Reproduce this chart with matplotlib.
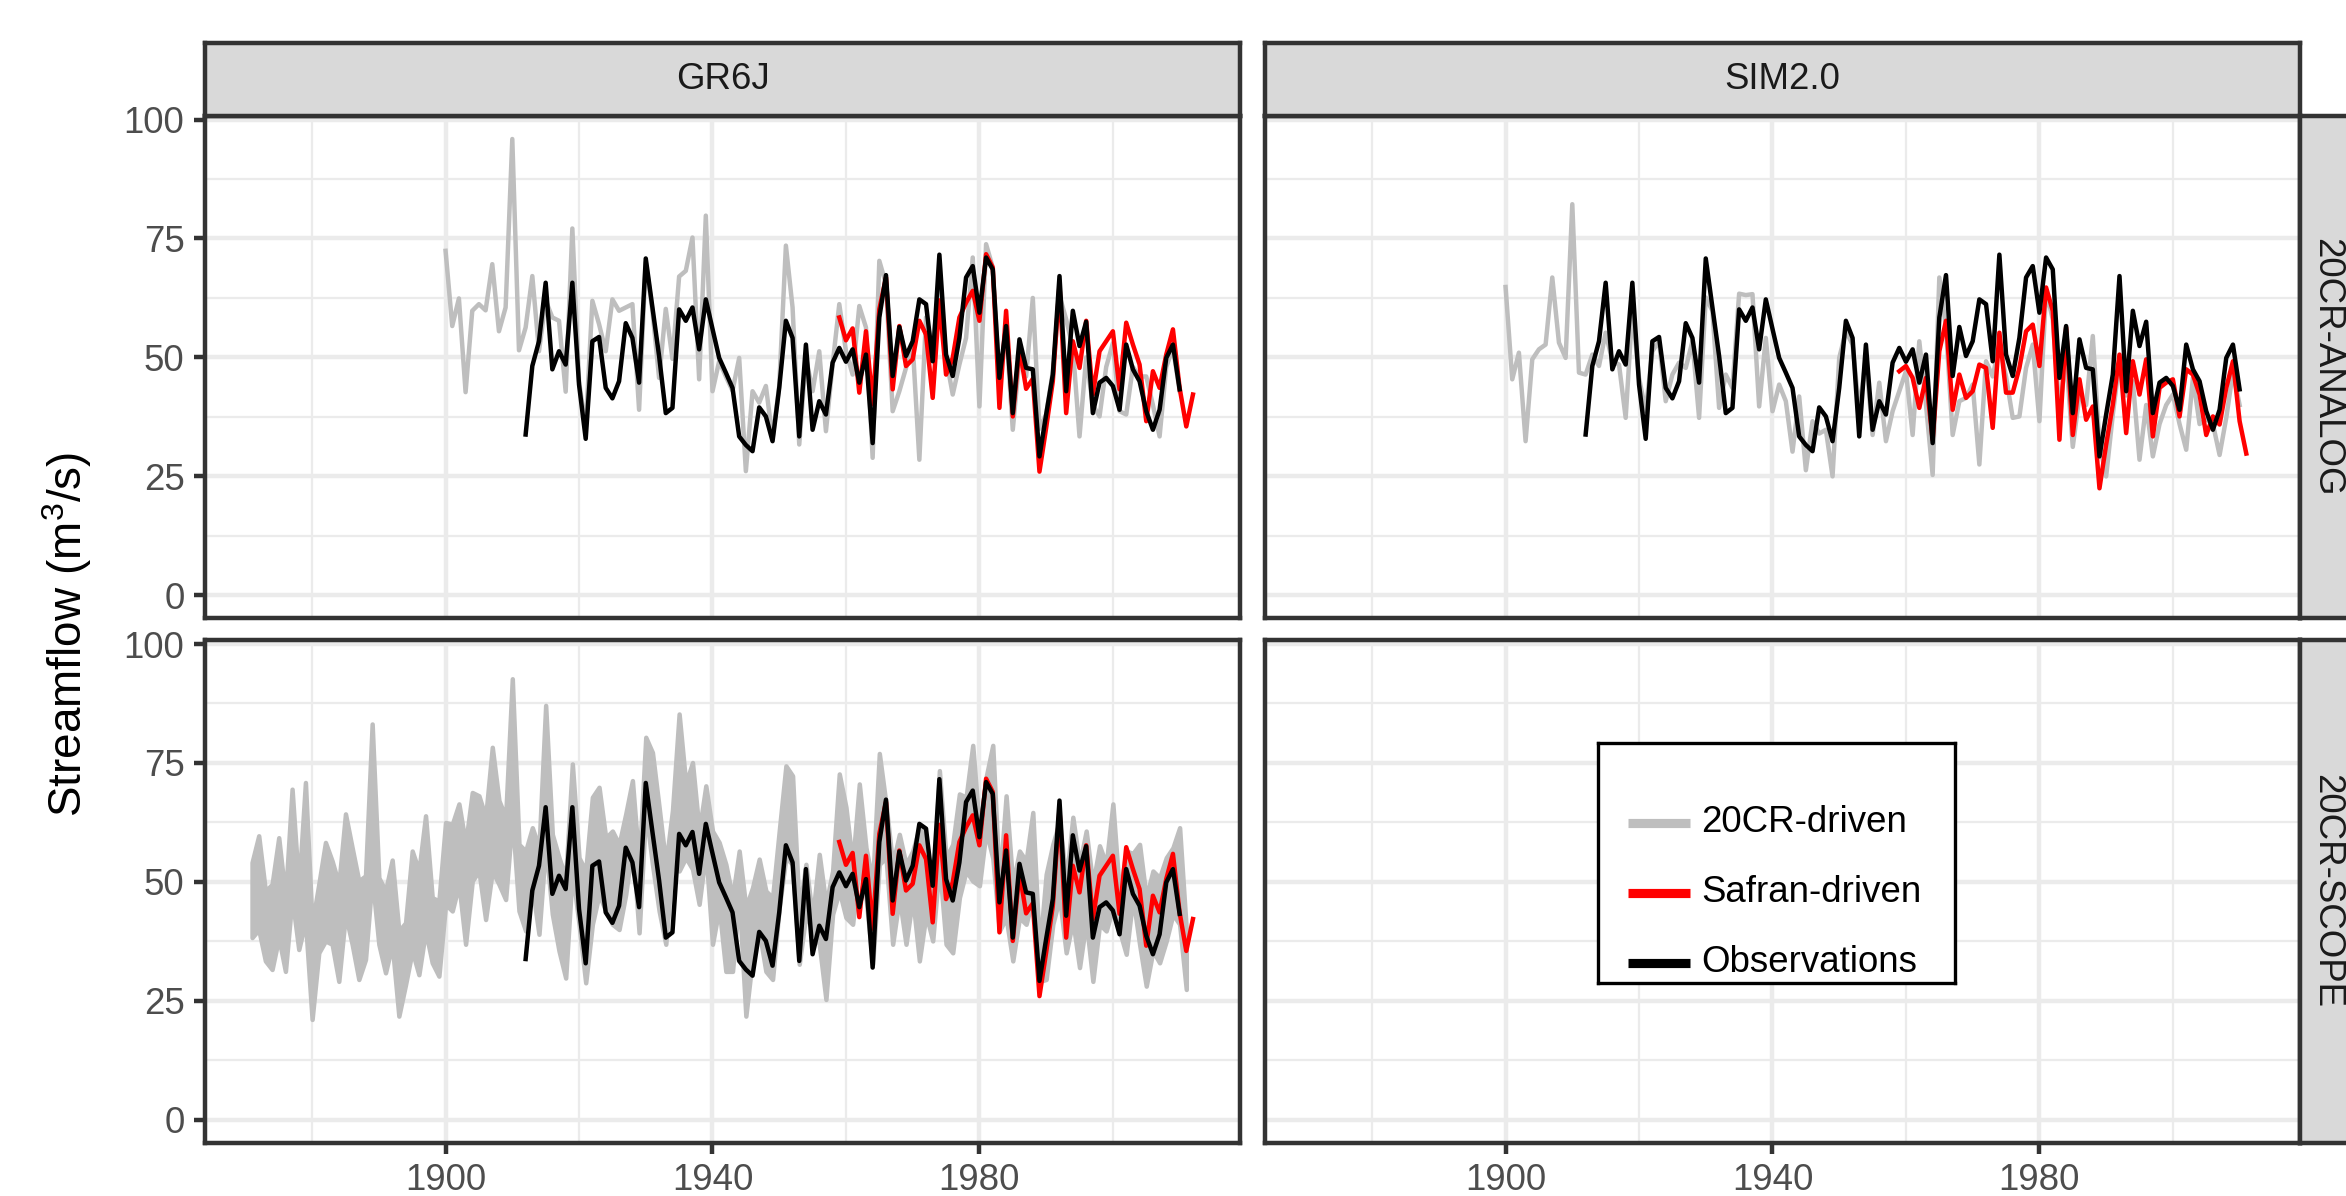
import numpy as np
import matplotlib
matplotlib.use('Agg')
import matplotlib.pyplot as plt

plt.rcParams['font.family'] = ['Liberation Sans', 'DejaVu Sans']
plt.rcParams['mathtext.fontset'] = 'custom'
plt.rcParams['mathtext.rm'] = 'Liberation Sans'
plt.rcParams['mathtext.it'] = 'Liberation Sans:italic'

W, H, DPI = 2346, 1196, 300

models = ['GR6J', 'SIM2.0']
methods = ['20CR-ANALOG', '20CR-SCOPE']
legend_labels = ['20CR-driven', 'Safran-driven', 'Observations']
x_breaks = [1900, 1940, 1980]
x_minor = [1880, 1920, 1960, 2000]
y_breaks = [0, 25, 50, 75, 100]
y_minor = [12.5, 37.5, 62.5, 87.5]

# observed streamflow, 1912-2010
obs_start = 1912
obs = [33.8, 48.2, 53.4, 65.7, 47.5, 51.3, 48.5, 65.7,
       44.3, 32.9, 53.4, 54.3, 43.6, 41.4, 45.0, 57.2, 54.1, 44.7,
       70.8, 60.5, 50.3, 38.3, 39.4, 60.1, 57.7, 60.5, 51.7, 62.2,
       56.0, 49.9, 46.8, 43.6, 33.4, 31.6, 30.3, 39.5, 37.6, 32.4,
       43.6, 57.7, 54.1, 33.4, 52.7, 34.8, 40.8, 38.0, 48.9, 52.0,
       49.1, 51.7, 44.7, 50.6, 32.0, 58.4, 67.3, 46.1, 56.4, 50.3,
       53.4, 62.2, 61.2, 49.2, 71.6, 50.6, 46.1, 54.1, 66.8, 69.2,
       59.4, 71.0, 68.5, 45.7, 56.6, 38.3, 53.8, 47.8, 47.5, 29.2,
       38.0, 46.4, 67.1, 42.9, 59.8, 52.4, 57.5, 38.3, 44.7, 45.7,
       44.0, 39.0, 52.7, 47.5, 45.0, 38.7, 34.8, 39.0, 49.9, 52.7,
       43.3]

# Safran-driven simulations
safran_start = 1959
safran_gr6j = [58.4,
               53.6, 56.1, 42.6, 55.5, 40.2, 60.1, 66.8, 43.3, 56.6, 48.2,
               49.6, 57.7, 54.8, 41.5, 62.0, 46.4, 49.9, 58.4, 61.5, 64.0,
               57.7, 71.7, 68.9, 39.4, 59.8, 37.6, 52.0, 43.4, 45.5, 26.0,
               35.2, 45.0, 65.3, 38.3, 53.4, 47.8, 57.7, 42.2, 51.3, 53.4,
               55.5, 43.3, 57.3, 52.7, 48.5, 36.6, 47.1, 43.6, 50.6, 55.9,
               43.6, 35.5, 42.2]
safran_sim = [47.1,
              48.2, 45.7, 39.4, 45.7, 32.7, 51.3, 57.7, 39.0, 46.4, 41.5,
              42.9, 48.5, 47.8, 35.2, 55.2, 42.6, 42.6, 47.8, 55.5, 56.9,
              48.2, 64.7, 59.8, 32.7, 56.3, 33.7, 45.4, 36.9, 39.7, 22.5,
              31.7, 40.1, 50.6, 34.1, 49.2, 42.2, 49.6, 33.4, 43.6, 44.7,
              45.4, 37.6, 47.5, 46.4, 42.2, 33.7, 37.6, 35.9, 43.6, 49.2,
              36.6, 29.8]

# 20CR-ANALOG driven simulations, 1900-2010
analog_start = 1900
analog_gr6j = [72.4, 56.6, 62.4, 42.7, 59.8, 61.2, 59.9, 69.6, 55.5, 60.5,
               95.9, 51.5, 56.3, 67.1, 51.3, 62.0, 58.4, 57.7, 42.8, 77.1,
               45.0, 35.0, 61.9, 57.0, 51.3, 62.2, 59.8, 60.5, 61.2, 39.0,
               70.0, 59.8, 45.7, 60.2, 49.7, 67.0, 68.2, 75.2, 45.4, 79.8,
               42.9, 49.2, 46.0, 43.0, 49.9, 26.1, 42.9, 40.5, 44.0, 33.0,
               44.0, 73.5, 60.5, 31.7, 50.0, 42.9, 51.3, 34.5, 48.5, 61.2,
               51.3, 46.4, 60.8, 56.3, 28.9, 70.3, 65.4, 38.7, 42.9, 47.8,
               52.7, 28.5, 58.4, 52.0, 65.4, 49.9, 42.2, 48.5, 54.1, 71.0,
               39.7, 73.8, 68.9, 45.0, 56.0, 34.8, 50.0, 46.0, 62.5, 35.0,
               38.0, 47.0, 63.0, 58.0, 52.0, 33.4, 50.0, 40.0, 37.6, 48.0,
               53.0, 38.7, 38.0, 48.0, 46.0, 46.0, 40.0, 33.4, 48.0, 52.0,
               43.0]
analog_sim = [64.8, 45.4, 51.0, 32.4, 49.6, 51.7, 52.7, 66.8, 53.1, 49.9,
              82.2, 46.8, 46.4, 50.6, 48.2, 55.2, 49.2, 48.5, 37.3, 60.0,
              45.7, 38.7, 51.3, 53.4, 40.8, 46.4, 48.9, 47.8, 53.4, 37.3,
              62.6, 59.8, 39.4, 46.4, 43.6, 63.4, 63.1, 63.3, 39.7, 54.1,
              38.7, 44.3, 40.8, 30.2, 41.8, 26.3, 36.6, 34.0, 34.8, 25.0,
              49.9, 55.5, 52.7, 38.7, 50.0, 33.7, 44.7, 32.4, 38.7, 42.9,
              47.1, 33.7, 53.4, 40.1, 25.3, 66.8, 56.3, 33.7, 40.8, 41.5,
              44.3, 27.5, 49.2, 46.0, 52.7, 46.0, 37.3, 37.6, 47.8, 52.7,
              36.6, 64.0, 58.0, 38.7, 50.0, 31.2, 42.0, 40.0, 54.5, 31.7,
              25.0, 38.0, 49.2, 42.0, 45.0, 28.5, 40.0, 29.2, 36.0, 40.0,
              42.2, 36.0, 30.6, 45.7, 36.0, 37.0, 36.0, 29.5, 37.3, 47.0,
              40.0]

# 20CR-SCOPE ensemble envelope (GR6J), 1871-2011
scope_start = 1871
scope_hi = [54.1, 59.7, 48.1, 49.5, 59.3, 46.7, 69.5, 48.8, 70.9,
            41.1, 49.5, 58.3, 54.4, 49.5, 64.3, 57.2, 50.2, 51.3, 83.2,
            50.9, 48.1, 54.6, 39.7, 41.4, 56.5, 52.3, 63.9, 46.7, 46.0,
            62.5, 62.1, 66.4, 58.0, 68.8, 68.1, 63.6, 78.3, 67.1, 63.6,
            92.7, 57.9, 56.5, 61.4, 57.2, 87.1, 60.0, 55.1, 50.9, 74.8,
            55.1, 52.3, 67.8, 69.9, 59.3, 60.7, 57.9, 64.3, 71.3, 53.7,
            80.4, 77.2, 65.7, 53.7, 65.0, 85.3, 70.6, 75.1, 60.7, 70.2,
            60.7, 58.3, 53.7, 46.7, 56.5, 44.6, 48.8, 54.8, 48.1, 46.7,
            60.7, 74.4, 72.3, 43.9, 53.7, 42.5, 55.8, 45.3, 52.3, 72.7,
            65.7, 53.7, 70.6, 57.2, 50.0, 77.0, 66.4, 53.7, 60.0, 53.7,
            56.5, 61.4, 59.3, 46.7, 73.4, 55.1, 57.9, 68.5, 67.8, 78.7,
            61.0, 72.0, 78.7, 49.5, 68.1, 49.5, 56.5, 54.4, 64.6, 35.5,
            51.6, 57.9, 62.8, 50.2, 63.6, 53.7, 60.7, 49.5, 57.6, 53.7,
            66.4, 47.4, 56.5, 56.0, 57.9, 46.7, 52.3, 50.9, 55.1, 57.2,
            61.4, 40.0]
scope_lo = [38.3, 40.0, 33.4, 31.6, 38.3, 31.2, 46.7, 35.8, 41.8,
            21.1, 35.1, 37.6, 36.9, 29.1, 43.2, 36.9, 29.5, 33.7, 50.9,
            36.9, 30.9, 36.9, 21.8, 28.4, 35.5, 30.5, 39.7, 33.0, 30.2,
            45.3, 43.9, 49.5, 36.9, 50.2, 52.3, 42.1, 52.3, 49.5, 46.3,
            63.6, 43.9, 39.7, 48.8, 39.0, 57.9, 43.2, 35.5, 29.8, 52.3,
            41.1, 28.8, 41.1, 47.4, 43.9, 41.1, 40.0, 47.4, 57.9, 39.3,
            65.0, 53.7, 43.9, 36.9, 53.7, 52.3, 55.1, 52.7, 45.3, 56.5,
            36.9, 44.6, 31.2, 31.2, 46.7, 21.8, 34.1, 39.7, 31.2, 29.5,
            44.6, 55.1, 53.7, 32.7, 43.2, 39.7, 36.9, 25.3, 43.2, 48.1,
            42.5, 41.1, 53.7, 46.7, 32.7, 53.7, 55.1, 36.9, 46.7, 36.9,
            46.7, 33.4, 43.2, 37.6, 53.7, 36.9, 35.1, 46.7, 52.3, 50.2,
            49.2, 60.7, 55.0, 39.7, 42.5, 33.4, 42.5, 41.1, 46.7, 29.1,
            29.5, 41.1, 46.7, 35.1, 41.8, 32.0, 41.8, 29.1, 41.1, 39.7,
            44.6, 39.7, 34.8, 46.7, 36.9, 28.1, 35.5, 33.0, 37.6, 43.2,
            41.1, 27.4]

GREY = '#BEBEBE'
RED = '#FF0000'


def years(start, values):
    return np.arange(start, start + len(values))


def px_box(x0, y0, x1, y1):
    return [x0 / W, 1 - y1 / H, (x1 - x0) / W, (y1 - y0) / H]


fig = plt.figure(figsize=(W / DPI, H / DPI), dpi=DPI)

col_x = [(205, 1240), (1265, 2300)]
row_y = [(115.7, 618.2), (640.2, 1142.7)]
xlim = (1871 - 0.05 * 141, 2012 + 0.05 * 141)
ylim = (-4.8, 100.8)

axes = {}
for r in range(2):
    for c in range(2):
        ax = fig.add_axes(px_box(col_x[c][0], row_y[r][0], col_x[c][1], row_y[r][1]))
        ax.set_xlim(*xlim)
        ax.set_ylim(*ylim)
        ax.set_xticks(x_breaks)
        ax.set_xticks(x_minor, minor=True)
        ax.set_yticks(y_breaks)
        ax.set_yticks(y_minor, minor=True)
        ax.grid(which='major', color='#EBEBEB', lw=1.07)
        ax.grid(which='minor', color='#EBEBEB', lw=0.53)
        ax.set_axisbelow(True)
        ax.tick_params(which='minor', length=0)
        ax.tick_params(which='major', length=2.74, width=1.07, color='#333333',
                       labelcolor='#4D4D4D', labelsize=8.8, pad=2.2)
        for s in ax.spines.values():
            s.set_color('#333333')
            s.set_linewidth(1.07)
        if c == 1:
            ax.tick_params(labelleft=False, left=False)
        if r == 0:
            ax.tick_params(labelbottom=False, bottom=False)
        axes[(r, c)] = ax

lw = 1.07
# top row: 20CR-ANALOG
ax = axes[(0, 0)]
ax.plot(years(analog_start, analog_gr6j), analog_gr6j, color=GREY, lw=lw)
ax.plot(years(safran_start, safran_gr6j), safran_gr6j, color=RED, lw=lw)
ax.plot(years(obs_start, obs), obs, color='black', lw=lw)

ax = axes[(0, 1)]
ax.plot(years(analog_start, analog_sim), analog_sim, color=GREY, lw=lw)
ax.plot(years(safran_start, safran_sim), safran_sim, color=RED, lw=lw)
ax.plot(years(obs_start, obs), obs, color='black', lw=lw)

# bottom row: 20CR-SCOPE ensemble envelope
ax = axes[(1, 0)]
ys = years(scope_start, scope_hi)
ax.fill_between(ys, scope_lo, scope_hi, color=GREY, lw=lw, edgecolor=GREY)
ax.plot(years(safran_start, safran_gr6j), safran_gr6j, color=RED, lw=lw)
ax.plot(years(obs_start, obs), obs, color='black', lw=lw)

# strips
for c, name in enumerate(models):
    sx = fig.add_axes(px_box(col_x[c][0], 43, col_x[c][1], row_y[0][0]))
    sx.set_facecolor('#D9D9D9')
    sx.set_xticks([])
    sx.set_yticks([])
    for s in sx.spines.values():
        s.set_color('#333333')
        s.set_linewidth(1.07)
    sx.text(0.5, 0.5, name, ha='center', va='center', fontsize=8.8,
            color='#1A1A1A', transform=sx.transAxes)

for r, name in enumerate(methods):
    sx = fig.add_axes(px_box(2300, row_y[r][0], 2373, row_y[r][1]))
    sx.set_facecolor('#D9D9D9')
    sx.set_xticks([])
    sx.set_yticks([])
    for s in sx.spines.values():
        s.set_color('#333333')
        s.set_linewidth(1.07)
    # the strip runs off the right edge; keep its label inside the picture
    sx.text(2327 / W, 1 - (row_y[r][0] + row_y[r][1]) / 2 / H, name,
            ha='center', va='center', fontsize=8.8, rotation=-90,
            color='#1A1A1A', transform=fig.transFigure)

fig.text(67 / W, 1 - 634 / H, 'Streamflow (m$^{3}$/s)', rotation=90,
         ha='center', va='center', fontsize=11, color='black')

# legend inside the empty bottom-right panel
lg = fig.add_axes(px_box(1598, 743, 1955, 983))
lg.set_xlim(0, 357)
lg.set_ylim(240, 0)
lg.set_xticks([])
lg.set_yticks([])
for s in lg.spines.values():
    s.set_color('black')
    s.set_linewidth(0.8)
for i, (lab, col) in enumerate(zip(legend_labels, [GREY, RED, 'black'])):
    yy = 80 + 70 * i
    lg.plot([30, 92], [yy, yy], color=col, lw=2.2, solid_capstyle='butt')
    lg.text(103, yy, lab, ha='left', va='center', fontsize=8.8, color='black')

fig.savefig('out.png', dpi=DPI)
